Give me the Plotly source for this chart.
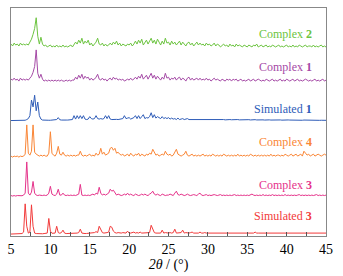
import plotly.graph_objects as go

# 2-theta grid: 5.0 to 45.0 in 0.2 degree steps (201 points)
X_START = 5.0
X_STEP = 0.2
N_POINTS = 201

LABELS = ["Simulated 3", "Complex 3", "Complex 4", "Simulated 1", "Complex 1", "Complex 2"]

complex2 = [
    4, 2, 5, 3, 4, 2, 5, 3, 4, 3,
    4, 3, 6, 9, 14, 20, 31, 12, 4, 11,
    4, 2, 3, 1, 2, 3, 1, 2, 1, 3,
    1, 2, 1, 3, 1, 2, 1, 2, 3, 1,
    3, 6, 4, 8, 5, 10, 4, 7, 5, 8,
    3, 5, 2, 4, 6, 10, 4, 3, 5, 2,
    4, 2, 3, 5, 3, 6, 4, 7, 3, 5,
    2, 4, 3, 2, 4, 3, 5, 2, 4, 7,
    4, 8, 5, 9, 3, 6, 8, 4, 7, 10,
    5, 8, 4, 9, 6, 3, 7, 4, 10, 5,
    6, 3, 7, 4, 6, 3, 5, 7, 3, 6,
    4, 2, 5, 6, 3, 5, 2, 4, 6, 3,
    5, 3, 4, 2, 5, 3, 4, 2, 3, 5,
    2, 4, 3, 1, 3, 4, 2, 3, 1, 4,
    2, 3, 1, 4, 2, 3, 2, 1, 3, 2,
    1, 3, 2, 1, 3, 2, 4, 1, 2, 3,
    1, 2, 3, 1, 2, 1, 3, 2, 1, 2,
    3, 1, 2, 1, 2, 3, 1, 2, 1, 3,
    1, 2, 1, 3, 2, 1, 2, 3, 1, 2,
    2, 1, 3, 1, 2, 1, 2, 3, 1, 2,
    1,
]

complex1 = [
    3, 2, 4, 2, 3, 1, 4, 2, 3, 2,
    3, 2, 4, 6, 10, 16, 33, 9, 4, 8,
    3, 1, 2, 1, 2, 1, 2, 1, 2, 1,
    2, 1, 2, 1, 1, 2, 1, 2, 1, 2,
    2, 5, 3, 7, 4, 8, 3, 6, 4, 5,
    2, 4, 2, 3, 5, 8, 3, 2, 4, 2,
    3, 1, 3, 4, 2, 5, 3, 4, 2, 3,
    2, 3, 1, 2, 3, 2, 4, 2, 3, 5,
    3, 6, 4, 8, 3, 5, 7, 3, 6, 9,
    4, 7, 3, 6, 4, 2, 5, 3, 9, 4,
    5, 2, 4, 3, 5, 2, 4, 5, 2, 4,
    3, 1, 4, 5, 2, 4, 2, 3, 4, 2,
    4, 2, 3, 2, 4, 2, 3, 1, 3, 4,
    2, 3, 2, 1, 3, 2, 1, 3, 2, 3,
    1, 3, 2, 3, 1, 2, 3, 1, 2, 1,
    2, 3, 1, 2, 3, 1, 2, 3, 2, 1,
    2, 1, 3, 2, 1, 2, 3, 1, 2, 1,
    2, 3, 1, 2, 1, 3, 2, 1, 2, 3,
    1, 2, 3, 1, 2, 1, 2, 3, 2, 1,
    2, 1, 2, 3, 1, 2, 1, 2, 3, 1,
    2,
]

simulated1 = [
    0, 0, 0, 0, 0, 0, 0, 0, 0, 0.3,
    1, 2, 5, 21, 14, 26, 10, 19, 5, 1.5,
    0.5, 0.3, 0.2, 0.2, 0.3, 0.3, 0.3, 0.5, 0.8, 1,
    3, 0.8, 0.5, 0.3, 0.4, 0.5, 0.5, 0.6, 0.8, 1,
    5, 1.5, 5, 2, 5, 2, 5, 1.5, 1, 1.5,
    4, 2, 1.5, 2, 5, 2, 1.5, 2, 1.5, 2,
    5, 2, 5, 1.5, 1, 1.2, 1.5, 1.2, 1, 1.5,
    1.5, 2, 5, 2, 2.5, 3, 1.5, 2, 3, 5,
    2, 5, 2, 4, 6, 2, 3, 2.5, 4, 8,
    3, 6, 2.5, 4, 3, 2, 4, 2, 3, 2,
    3, 1.5, 2.5, 1.5, 2, 1, 2.5, 1, 1.5, 2,
    1, 1.5, 2, 1, 1, 1.5, 1, 1.2, 1, 1.5,
    1, 1.5, 1, 1.2, 1, 0.8, 1, 1.5, 1, 0.8,
    1, 0.8, 1, 1.2, 0.8, 1, 0.7, 1, 0.8, 1,
    0.8, 1, 0.7, 0.9, 1, 0.7, 0.8, 1, 0.7, 0.8,
    0.7, 0.9, 0.6, 0.8, 0.7, 0.9, 0.6, 0.8, 0.7, 0.6,
    0.7, 0.5, 0.8, 0.6, 0.7, 0.5, 0.6, 0.7, 0.5, 0.6,
    0.5, 0.6, 0.4, 0.6, 0.5, 0.4, 0.6, 0.5, 0.4, 0.5,
    0.4, 0.5, 0.3, 0.5, 0.4, 0.3, 0.5, 0.4, 0.3, 0.4,
    0.3, 0.4, 0.3, 0.2, 0.4, 0.3, 0.2, 0.3, 0.2, 0.3,
    0.2,
]

complex4 = [
    1, 0, 1, 0.5, 1, 0, 1, 0.5, 1, 3,
    33, 4, 2, 6, 33, 5, 3, 2, 1, 2,
    1, 2, 1, 1, 4, 26, 4, 2, 1, 4,
    11, 3, 2, 5, 2, 1, 2, 1, 2, 1,
    2, 1, 2, 2, 6, 2, 1, 2, 1, 2,
    3, 1, 2, 1, 4, 2, 3, 9, 3, 5,
    2, 3, 4, 9, 10, 7, 9, 4, 5, 3,
    2, 3, 1, 2, 3, 1, 4, 2, 1, 3,
    2, 4, 1, 3, 2, 1, 3, 2, 4, 3,
    8, 5, 2, 3, 1, 2, 3, 2, 6, 3,
    2, 3, 1, 2, 5, 8, 3, 2, 1, 2,
    3, 6, 2, 1, 2, 3, 1, 2, 1, 2,
    1, 2, 3, 1, 2, 1, 2, 1, 3, 2,
    1, 2, 1, 2, 1, 3, 2, 1, 2, 1,
    2, 1, 2, 1, 3, 1, 2, 1, 2, 1,
    2, 1, 3, 2, 1, 2, 1, 2, 1, 2,
    1, 2, 1, 2, 1, 3, 1, 2, 1, 2,
    2, 1, 2, 1, 3, 2, 1, 2, 3, 1,
    2, 3, 1, 2, 3, 1, 6, 4, 2, 3,
    1, 2, 3, 1, 2, 3, 2, 1, 2, 3,
    2,
]

complex3 = [
    0.5, 0, 0.5, 0, 0.5, 0.3, 0.5, 0.3, 1, 3,
    35, 3, 1, 4, 15, 3, 1, 0.5, 1, 0.5,
    0.5, 1, 0.5, 1, 3, 10, 2, 1, 0.5, 2,
    7, 1, 1, 3, 1, 0.5, 1, 0.5, 1, 0.5,
    1, 0.5, 1, 2, 12, 1, 0.5, 1, 0.5, 1,
    0.5, 1, 2, 1, 3, 2, 9, 3, 1, 2,
    1, 2, 3, 7, 5, 6, 3, 1, 2, 1,
    0.5, 1, 2, 1, 3, 1, 2, 1, 0.5, 2,
    1, 0.5, 1, 2, 1, 2, 1, 0.5, 2, 3,
    5, 2, 1, 2, 1, 0.5, 2, 1, 0.5, 1,
    1, 2, 1, 0.5, 3, 5, 1.5, 1, 2, 1,
    0.5, 1, 2, 1, 0.5, 1, 1.5, 1, 0.5, 2,
    3, 1, 0.5, 1, 1.5, 0.5, 1, 0.5, 1, 1.5,
    1, 0.5, 1, 1.5, 0.5, 1, 0.5, 1, 0.5, 1,
    0.5, 1, 1.5, 0.5, 1, 0.5, 1, 0.5, 1, 0.5,
    1, 0.5, 1, 2, 1, 0.5, 1, 0.5, 1, 0.5,
    1.5, 0.5, 1, 0.5, 1, 0.5, 1.5, 0.5, 1, 0.5,
    1, 0.5, 1, 0.5, 1.5, 0.5, 1, 0.5, 1, 0.5,
    1, 0.5, 1, 1.5, 0.5, 1, 0.5, 1, 0.5, 1,
    0.5, 1, 0.5, 1, 1.5, 0.5, 1, 0.5, 1, 0.5,
    1,
]

simulated3 = [
    0, 0, 0, 0, 0, 0, 0, 0.5, 2, 31,
    8, 1, 2, 30, 8, 1, 0.5, 0.3, 0.3, 0.3,
    0.3, 0.5, 0.5, 1, 16, 3, 0.8, 1, 1, 8,
    1.5, 0.8, 1.5, 4, 1, 0.5, 0.5, 0.5, 0.5, 0.6,
    0.5, 0.8, 1, 1.5, 5, 1, 0.6, 0.5, 0.6, 0.8,
    0.8, 1, 1, 1.5, 2.5, 1.5, 8, 5, 1.5, 1,
    1, 1.5, 2, 8, 7, 3, 1.5, 1, 1.5, 1,
    1, 1.5, 1, 1, 3, 1, 1, 1.5, 2, 1,
    1.5, 1, 2, 1, 1, 1.5, 1, 1, 1.5, 9,
    4, 1.5, 1, 1, 1.5, 1, 4, 1, 1.5, 1,
    1, 1.5, 1, 1.5, 5, 1, 1, 1, 1.5, 4,
    1, 1.5, 1, 1, 1.5, 2, 1, 1, 1.5, 1,
    2, 1, 1, 1.5, 1, 1, 1, 1.5, 1, 1,
    1.5, 1, 1, 1, 1.5, 1, 1, 1, 1, 1.5,
    1, 1, 1.5, 1, 1, 1, 1.5, 1, 1, 1,
    1, 1.5, 1, 1, 1, 2, 1, 1, 1, 1.5,
    1, 1, 1, 1.5, 1, 1, 1, 1, 1.5, 1,
    1, 1, 1.5, 1, 1, 1, 1, 1.5, 1, 1,
    1, 1.5, 1, 1, 1, 1, 1.5, 1, 1, 1,
    1, 1, 1, 1.5, 1, 1, 1, 1, 1.5, 1,
    1,
]

SERIES = [simulated3, complex3, complex4, simulated1, complex1, complex2]

# stacking offsets (vertical shift for each pattern)
OFFSETS = [2, 41, 81, 118.5, 158, 193]
COLORS = ["#F23A3A", "#E5328A", "#FA8636", "#2E5CB8", "#A54AA6", "#6CC440"]
LABEL_Y = [21, 52, 96, 130, 173, 207]

x = [X_START + X_STEP * i for i in range(N_POINTS)]

fig = go.Figure()
for vals, off, col in zip(SERIES, OFFSETS, COLORS):
    fig.add_trace(go.Scatter(
        x=x, y=[v + off for v in vals], mode="lines",
        line=dict(color=col, width=1), hoverinfo="skip", showlegend=False,
    ))

FONT = "Liberation Serif"
for lab, ly, col in zip(LABELS, LABEL_Y, COLORS):
    name, num = lab.rsplit(" ", 1)
    fig.add_annotation(
        x=0.962, xref="paper", y=ly, yref="y", text=f"{name} <b>{num}</b>",
        showarrow=False, xanchor="right", yanchor="middle",
        font=dict(family=FONT, size=12, color=col),
    )

fig.update_layout(
    width=343, height=276,
    margin=dict(l=10, r=17, t=7, b=35),
    paper_bgcolor="white", plot_bgcolor="white",
    font=dict(family=FONT, size=14, color="black"),
    xaxis=dict(
        range=[5, 45], tick0=5, dtick=5, ticks="inside", ticklen=4, tickwidth=1,
        tickcolor="#555", showline=True, mirror=True, linecolor="#888", linewidth=1,
        showgrid=False, zeroline=False,
        minor=dict(dtick=2.5, ticks="inside", ticklen=4, tickcolor="#555", showgrid=False),
        tickfont=dict(family=FONT, size=14, color="black"),
        title=dict(text="<i>2θ</i> / (°)", font=dict(family=FONT, size=14, color="black"), standoff=2),
    ),
    yaxis=dict(
        range=[0, 234], showticklabels=False, ticks="", showgrid=False, zeroline=False,
        showline=True, mirror=True, linecolor="#888", linewidth=1,
    ),
)

fig.write_html("out.html", config={"displayModeBar": False},
               post_script="document.body.style.margin='0';")
